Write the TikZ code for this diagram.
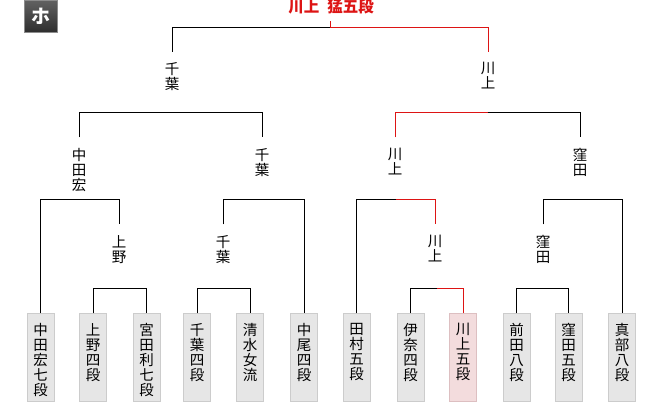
\documentclass[tikz,border=0pt]{standalone}
\usepackage{fontspec}
\newfontfamily\jpfont{Noto Sans CJK JP}
\usetikzlibrary{calc}
\definecolor{win}{HTML}{DD1414}
\definecolor{boxfill}{HTML}{E6E6E6}
\definecolor{boxline}{HTML}{CCCCCC}
\definecolor{hifill}{HTML}{F3DCDD}
\definecolor{hiline}{HTML}{DDBFC1}
\begin{document}
\begin{tikzpicture}[x=1pt,y=-1pt,
  link/.style={draw=black,line width=1pt},
  winlink/.style={draw=win,line width=1pt},
  lbl/.style={inner sep=0pt,align=center,anchor=north,font=\jpfont\fontsize{14.5}{15}\selectfont},
  player/.style={draw=boxline,fill=boxfill,line width=1pt,minimum width=27pt,minimum height=88pt,inner sep=0pt,anchor=north},
  hiplayer/.style={player,draw=hiline,fill=hifill},
  badge/.style={minimum width=33pt,minimum height=32pt,inner sep=0pt,top color=black!62,bottom color=black!82,draw=black!45,line width=0.8pt,text=white,font=\jpfont\bfseries\fontsize{19}{19}\selectfont},
  titlestyle/.style={inner sep=0pt,text=win,font=\jpfont\bfseries\fontsize{15.5}{16}\selectfont},
]
\useasboundingbox (0,0) rectangle (662,403);

% badge and title
\node[badge] (bd) at (41,16.5) {ホ};
\node[titlestyle] (title) at (331,7) {川上\hspace{8pt}猛五段};

% round 1 labels
\node[lbl] (r1a) at (172,62) {千\\葉};
\node[lbl] (r1b) at (488,62) {川\\上};
% round 2 labels
\node[lbl] (r2a) at (79,148) {中\\田\\宏};
\node[lbl] (r2b) at (262,148) {千\\葉};
\node[lbl] (r2c) at (395,148) {川\\上};
\node[lbl] (r2d) at (580,148) {窪\\田};
% round 3 labels
\node[lbl] (r3a) at (119,235) {上\\野};
\node[lbl] (r3b) at (223,235) {千\\葉};
\node[lbl] (r3c) at (435,235) {川\\上};
\node[lbl] (r3d) at (543,235) {窪\\田};

% players
\node[player] (p1) at (40.5,313.5) {};
\node[lbl] (p1n) at (40.5,323) {中\\田\\宏\\七\\段};
\node[player] (p2) at (93,313.5) {};
\node[lbl] (p2n) at (93,323) {上\\野\\四\\段};
\node[player] (p3) at (146.5,313.5) {};
\node[lbl] (p3n) at (146.5,323) {宮\\田\\利\\七\\段};
\node[player] (p4) at (197,313.5) {};
\node[lbl] (p4n) at (197,323) {千\\葉\\四\\段};
\node[player] (p5) at (250,313.5) {};
\node[lbl] (p5n) at (250,323) {清\\水\\女\\流};
\node[player] (p6) at (304,313.5) {};
\node[lbl] (p6n) at (304,323) {中\\尾\\四\\段};
\node[player] (p7) at (356.5,313.5) {};
\node[lbl] (p7n) at (356.5,323) {田\\村\\五\\段};
\node[player] (p8) at (410.5,313.5) {};
\node[lbl] (p8n) at (410.5,323) {伊\\奈\\四\\段};
\node[hiplayer] (p9) at (463,313.5) {};
\node[lbl] (p9n) at (463,323) {川\\上\\五\\段};
\node[player] (p10) at (516.5,313.5) {};
\node[lbl] (p10n) at (516.5,323) {前\\田\\八\\段};
\node[player] (p11) at (568.5,313.5) {};
\node[lbl] (p11n) at (568.5,323) {窪\\田\\五\\段};
\node[player] (p12) at (622,313.5) {};
\node[lbl] (p12n) at (622,323) {真\\部\\八\\段};

% round 1 bracket (final)
\coordinate (r1m) at ($([yshift=34pt]r1a.north)!.5!([yshift=34pt]r1b.north)$);
\draw[link] ([yshift=10pt]r1a.north) |- (r1m);
\draw[winlink] (r1m) -| ([yshift=10pt]r1b.north);
\draw[winlink] (r1m) -- ([yshift=7pt]r1m);

% round 2 brackets
\draw[link] ([yshift=10.5pt]r2a.north) |- ([yshift=35pt]r2b.north) -- ([yshift=10.5pt]r2b.north);
\coordinate (r2m) at ($([yshift=35pt]r2c.north)!.5!([yshift=35pt]r2d.north)$);
\draw[winlink] ([yshift=10.5pt]r2c.north) |- (r2m);
\draw[link] (r2m) -| ([yshift=10.5pt]r2d.north);

% round 3 brackets
\draw[link] (p1.north) |- ([yshift=35pt]r3a.north) -- ([yshift=10.5pt]r3a.north);
\draw[link] ([yshift=10.5pt]r3b.north) |- ([yshift=35pt]r3b.north) -| (p6.north);
\coordinate (r3ch) at ([yshift=35pt]r3c.north);
\coordinate (r3cm) at ($(p7.north |- r3ch)!.5!(r3ch)$);
\draw[link] (p7.north) |- (r3cm);
\draw[winlink] (r3cm) -| ([yshift=10.5pt]r3c.north);
\draw[link] ([yshift=10.5pt]r3d.north) |- ([yshift=35pt]r3d.north) -| (p12.north);

% round 4 brackets
\draw[link] (p2.north) |- ([yshift=25pt]p3.north) -- (p3.north);
\draw[link] (p4.north) |- ([yshift=25pt]p5.north) -- (p5.north);
\coordinate (r4cm) at ($([yshift=25pt]p8.north)!.5!([yshift=25pt]p9.north)$);
\draw[link] (p8.north) |- (r4cm);
\draw[winlink] (r4cm) -| (p9.north);
\draw[link] (p10.north) |- ([yshift=25pt]p11.north) -- (p11.north);
\end{tikzpicture}
\end{document}
